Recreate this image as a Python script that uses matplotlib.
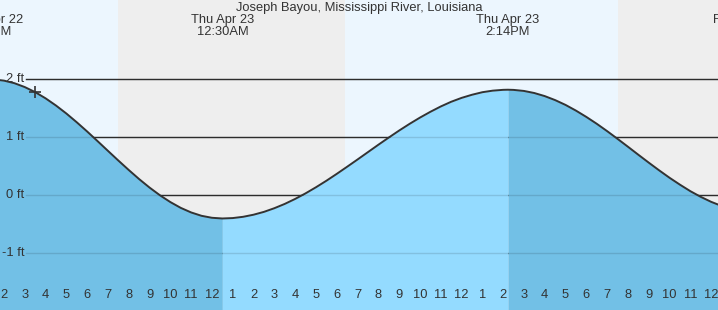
import matplotlib.pyplot as plt
import matplotlib.transforms as mtransforms

plt.rcParams['font.family'] = ['Liberation Sans', 'DejaVu Sans']

# hours counted from Wed Apr 22 00:00, heights in ft
hours = [13.3, 13.5, 14, 14.5, 15, 15.5, 16, 16.5, 17, 17.5, 18, 18.5, 19, 19.5,
         20, 20.5, 21, 21.5, 22, 22.5, 23, 23.5, 24, 24.5,
         25, 25.5, 26, 26.5, 27, 27.5, 28, 28.5, 29, 29.5, 30, 30.5, 31, 31.5,
         32, 32.5, 33, 33.5, 34, 34.5, 35, 35.5, 36, 36.5, 37, 37.5, 38, 38.23,
         38.5, 39, 39.5, 40, 40.5, 41, 41.5, 42, 42.5, 43, 43.5, 44, 44.5,
         45, 45.5, 46, 46.5, 47, 47.5, 48, 48.5, 49]
heights = [2.0, 1.998, 1.977, 1.933, 1.866, 1.779, 1.672, 1.548, 1.41, 1.259, 1.10, 0.934, 0.766, 0.599,
           0.436, 0.279, 0.133, 0.0, -0.117, -0.217, -0.296, -0.354, -0.388, -0.40,
           -0.393, -0.371, -0.335, -0.286, -0.223, -0.149, -0.063, 0.033, 0.138, 0.25, 0.369, 0.492, 0.617, 0.744,
           0.871, 0.995, 1.116, 1.231, 1.339, 1.439, 1.531, 1.612, 1.679, 1.733, 1.777, 1.804, 1.818, 1.82,
           1.817, 1.799, 1.763, 1.71, 1.641, 1.558, 1.46, 1.351, 1.233, 1.106, 0.973, 0.837, 0.699,
           0.563, 0.43, 0.302, 0.183, 0.071, -0.027, -0.113, -0.183, -0.237]

low_time = 24.5
high_time = 38.23

# extreme labels: (time, text)
extreme_times = [13.3, 24.5, 38.23, 49.45]
extreme_labels = ["Wed Apr 22\n1:18PM", "Thu Apr 23\n12:30AM", "Thu Apr 23\n2:14PM", "Fri Apr 24\n1:27AM"]

# night shading (sunset, sunrise)
nights = [(19.48, 30.39), (43.52, 55.0)]

now_time = 15.49
now_height = 1.78

y_levels = [2, 1, 0, -1]
y_labels = ["2 ft", "1 ft", "0 ft", "-1 ft"]

tick_hours = list(range(14, 49))
tick_labels = ["2", "3", "4", "5", "6", "7", "8", "9", "10", "11", "12",
               "1", "2", "3", "4", "5", "6", "7", "8", "9", "10", "11", "12",
               "1", "2", "3", "4", "5", "6", "7", "8", "9", "10", "11", "12"]
midnights = [24, 48]

title = "Joseph Bayou, Mississippi River, Louisiana"

DAY = "#ecf6fe"
NIGHT = "#eeeeee"
FALL = "#72c0e6"
RISE = "#94dbff"
TXT = "#333333"
FS = 9.3

fig = plt.figure(figsize=(7.18, 3.10), dpi=100)
ax = fig.add_axes([0, 0, 1, 1])
ax.set_facecolor(DAY)
ax.set_xlim(13.81, 48.33)
ax.set_ylim(-1.978, 3.367)
for s in ax.spines.values():
    s.set_visible(False)

for start, end in nights:
    ax.axvspan(start, end, color=NIGHT, lw=0, zorder=0)

# grid lines under the water
for lv in y_levels:
    ax.axhline(lv, xmin=26 / 718, color=TXT, lw=1, zorder=1)

bottom = ax.get_ylim()[0]
fall1 = [h <= low_time for h in hours]
rise = [low_time <= h <= high_time for h in hours]
fall2 = [h >= high_time for h in hours]
ax.fill_between(hours, heights, bottom, where=fall1, color=FALL, lw=0, zorder=2)
ax.fill_between(hours, heights, bottom, where=rise, color=RISE, lw=0, zorder=2)
ax.fill_between(hours, heights, bottom, where=fall2, color=FALL, lw=0, zorder=2)

# faint grid lines on top of the water
for lv in y_levels:
    ax.axhline(lv, xmin=26 / 718, color="black", alpha=0.12, lw=1, zorder=3)

ax.plot(hours, heights, color=TXT, lw=1.4, zorder=4)
ax.plot([now_time], [now_height], marker="+", color=TXT, ms=8, mew=1.2, zorder=5)

for lv, lab in zip(y_levels, y_labels):
    ax.annotate(lab, xy=(0, lv), xycoords=("axes fraction", "data"),
                xytext=(24, 0), textcoords="offset pixels",
                ha="right", va="center", fontsize=FS, color=TXT, zorder=6)

trans = mtransforms.blended_transform_factory(ax.transData, ax.transAxes)
for t, lab in zip(extreme_times, extreme_labels):
    ax.text(t, 1 - 26 / 310, lab, transform=trans, ha="center", va="center",
            fontsize=FS, color=TXT, linespacing=0.92, zorder=6)

ax.text(0.5, 1 - 7.5 / 310, title, transform=ax.transAxes, ha="center", va="center",
        fontsize=FS, color=TXT, zorder=6)

for h, lab in zip(tick_hours, tick_labels):
    ax.text(h, 14.5 / 310, lab, transform=trans, ha="center", va="center",
            fontsize=FS, color=TXT, zorder=6)

ax.set_xticks([h for h in tick_hours if h not in midnights])
ax.set_xticks(midnights, minor=True)
ax.tick_params(axis="x", which="major", direction="in", length=5.8, width=1,
               color=TXT, labelbottom=False)
ax.tick_params(axis="x", which="minor", direction="in", length=5.8, width=2.6,
               color=TXT, labelbottom=False)
ax.set_yticks([])
for tl in ax.xaxis.get_ticklines(minor=True) + ax.xaxis.get_ticklines():
    tl.set_zorder(7)

fig.savefig("out.png", dpi=100)
